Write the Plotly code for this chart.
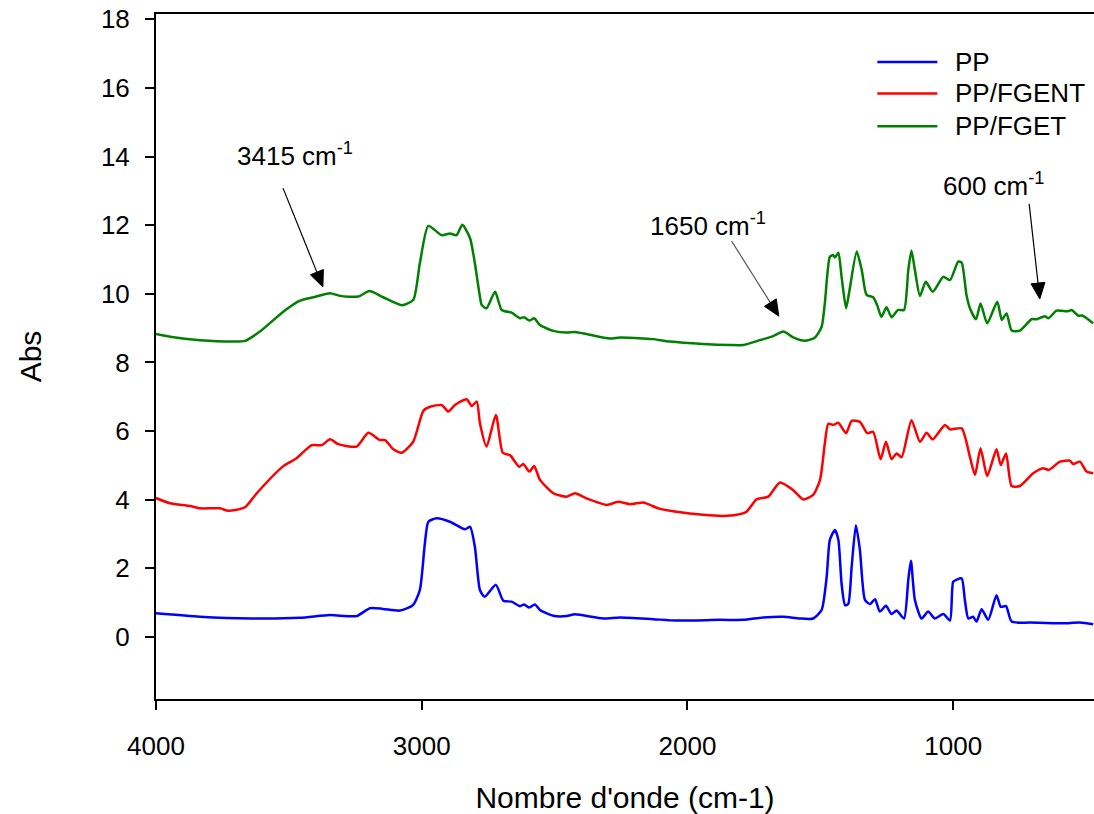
import math
import plotly.graph_objects as go

# ---------------- data ----------------
pp_wn = [4000, 3834, 3646, 3458, 3345, 3245, 3195, 3146, 3082, 3033, 3007, 2988, 2975, 2944, 2894,
         2837, 2818, 2800, 2781, 2763, 2721, 2693, 2662, 2630, 2615, 2595, 2574, 2555, 2505, 2455,
         2423, 2317, 2254, 2129, 2041, 1878, 1790, 1715, 1639, 1577, 1527, 1495, 1476, 1464, 1445,
         1432, 1420, 1407, 1395, 1382, 1366, 1351, 1332, 1313, 1294, 1276, 1253, 1232, 1213, 1185,
         1169, 1159, 1144, 1119, 1094, 1069, 1037, 1012, 1000, 987, 968, 956, 943, 925, 912,
         893, 868, 837, 821, 801, 780, 711, 586, 523, 473]
pp_abs = [0.69, 0.59, 0.54, 0.56, 0.64, 0.61, 0.84, 0.82, 0.77, 0.93, 1.37, 2.74, 3.36, 3.46, 3.36,
          3.14, 3.21, 2.63, 1.37, 1.17, 1.52, 1.06, 1.03, 0.90, 0.95, 0.86, 0.95, 0.79, 0.62, 0.61,
          0.66, 0.54, 0.57, 0.52, 0.48, 0.50, 0.50, 0.57, 0.59, 0.54, 0.54, 0.79, 1.76, 2.83, 3.12,
          2.83, 1.56, 0.93, 0.96, 2.05, 3.26, 2.54, 1.08, 0.96, 1.10, 0.74, 0.91, 0.67, 0.77, 0.54,
          1.66, 2.22, 1.08, 0.54, 0.74, 0.54, 0.67, 0.48, 1.61, 1.67, 1.71, 1.08, 0.54, 0.59, 0.45,
          0.81, 0.50, 1.22, 0.88, 0.90, 0.45, 0.42, 0.40, 0.42, 0.37]

fgent_wn = [4000, 3947, 3872, 3834, 3759, 3728, 3665, 3621, 3521, 3471, 3414, 3376, 3345, 3314, 3245,
            3201, 3157, 3138, 3107, 3075, 3032, 2994, 2969, 2925, 2900, 2875, 2831, 2812, 2793, 2781,
            2756, 2721, 2695, 2668, 2633, 2618, 2595, 2577, 2555, 2505, 2455, 2423, 2380, 2304, 2260,
            2216, 2166, 2141, 2110, 2041, 1941, 1865, 1815, 1778, 1740, 1696, 1652, 1602, 1564, 1527,
            1501, 1483, 1470, 1451, 1432, 1403, 1382, 1351, 1323, 1301, 1273, 1253, 1232, 1213, 1194,
            1157, 1125, 1100, 1077, 1031, 1012, 968, 937, 918, 897, 872, 837, 821, 801, 780,
            749, 699, 662, 640, 598, 561, 548, 523, 498, 473]
fgent_abs = [4.05, 3.90, 3.82, 3.75, 3.75, 3.68, 3.78, 4.19, 4.98, 5.21, 5.59, 5.59, 5.76, 5.62, 5.55,
             5.95, 5.74, 5.74, 5.47, 5.37, 5.69, 6.59, 6.71, 6.76, 6.57, 6.76, 6.93, 6.73, 6.86, 6.23,
             5.55, 6.47, 5.37, 5.30, 4.96, 5.04, 4.82, 4.98, 4.58, 4.19, 4.09, 4.19, 4.04, 3.85, 3.94,
             3.87, 3.92, 3.85, 3.75, 3.65, 3.56, 3.53, 3.56, 3.65, 4.01, 4.09, 4.50, 4.28, 4.01, 4.14,
             4.58, 5.64, 6.21, 6.18, 6.24, 5.94, 6.30, 6.27, 5.94, 5.98, 5.18, 5.69, 5.18, 5.35, 5.24,
             6.32, 5.69, 5.95, 5.76, 6.18, 6.05, 6.08, 5.25, 4.72, 5.50, 4.69, 5.47, 5.01, 5.35, 4.40,
             4.40, 4.77, 4.92, 4.87, 5.11, 5.14, 5.04, 5.11, 4.82, 4.77]

fget_wn = [4000, 3947, 3834, 3709, 3665, 3609, 3521, 3458, 3408, 3345, 3308, 3239, 3197, 3145, 3075,
           3032, 3007, 2975, 2925, 2894, 2869, 2847, 2818, 2800, 2783, 2774, 2756, 2724, 2699, 2662,
           2630, 2615, 2595, 2577, 2555, 2505, 2455, 2423, 2380, 2292, 2254, 2166, 2129, 2066, 1941,
           1840, 1790, 1727, 1677, 1639, 1602, 1558, 1520, 1495, 1483, 1464, 1452, 1445, 1432, 1420,
           1403, 1391, 1363, 1344, 1326, 1301, 1286, 1270, 1251, 1232, 1207, 1185, 1169, 1157, 1144,
           1125, 1103, 1077, 1037, 1012, 981, 968, 950, 937, 914, 897, 872, 834, 817, 799,
           780, 749, 705, 686, 655, 641, 611, 568, 554, 529, 514, 473]
fget_abs = [8.83, 8.75, 8.65, 8.61, 8.63, 8.90, 9.48, 9.80, 9.90, 10.02, 9.94, 9.92, 10.08, 9.90, 9.67,
            9.82, 10.89, 11.98, 11.71, 11.76, 11.71, 12.01, 11.62, 10.89, 10.02, 9.67, 9.58, 10.06, 9.53, 9.45,
            9.29, 9.32, 9.22, 9.29, 9.09, 8.92, 8.87, 8.89, 8.83, 8.70, 8.73, 8.70, 8.68, 8.61, 8.54,
            8.51, 8.51, 8.65, 8.77, 8.90, 8.73, 8.63, 8.73, 9.04, 9.72, 11.08, 11.13, 11.06, 11.20, 10.50,
            9.58, 10.06, 11.23, 10.69, 9.97, 9.90, 9.67, 9.33, 9.61, 9.32, 9.53, 9.53, 10.69, 11.26, 10.69,
            9.94, 10.35, 10.06, 10.50, 10.40, 10.94, 10.91, 9.97, 9.58, 9.26, 9.72, 9.14, 9.77, 9.24, 9.43,
            8.93, 8.93, 9.26, 9.26, 9.35, 9.29, 9.51, 9.49, 9.53, 9.36, 9.37, 9.14]

series_names = ["PP", "PP/FGENT", "PP/FGET"]
series_colors = ["#0000FF", "#FF0000", "#008000"]

x_ticks = [4000, 3000, 2000, 1000]
y_ticks = [0, 2, 4, 6, 8, 10, 12, 14, 16, 18]

peak_labels = ["3415 cm<sup>-1</sup>", "1650 cm<sup>-1</sup>", "600 cm<sup>-1</sup>"]

FONT = "Arial, Liberation Sans, sans-serif"

# layout geometry
W, H = 1094, 814
M_L, M_R, M_T, M_B = 156, 0, 14, 115
X_RANGE = [4000, 470]
Y_RANGE = [-1.806, 18.154]
PW, PH = W - M_L - M_R, H - M_T - M_B
sx = PW / (X_RANGE[1] - X_RANGE[0])   # px per data unit (negative: reversed)
sy = PH / (Y_RANGE[1] - Y_RANGE[0])

fig = go.Figure()
for wn, ab, name, col in zip([pp_wn, fgent_wn, fget_wn], [pp_abs, fgent_abs, fget_abs],
                             series_names, series_colors):
    fig.add_trace(go.Scatter(x=wn, y=ab, mode="lines", name=name,
                             line=dict(color=col, width=2.5, shape="spline", smoothing=0.6),
                             showlegend=False))

# custom legend (long line samples)
leg_y = [0.930, 0.884, 0.836]
for name, col, yy in zip(series_names, series_colors, leg_y):
    fig.add_shape(type="line", xref="paper", yref="paper", x0=0.769, x1=0.833, y0=yy, y1=yy,
                  line=dict(color=col, width=2.5))
    fig.add_annotation(xref="paper", yref="paper", x=0.850, y=yy, text=name, showarrow=False,
                       xanchor="left", yanchor="middle", font=dict(size=26, color="black", family=FONT))

# peak arrows drawn as shapes: (tip, tail, colour)
arrows = [((3372, 10.20), (3522, 13.08), "black"),
          ((1656, 9.35), (1834, 11.54), "#555555"),
          ((674, 9.85), (714, 12.62), "black")]
HEAD_L, HEAD_W = 16, 7
for (tx, ty), (bx, by), col in arrows:
    # to pixel-like space (y down)
    tpx, tpy = tx * sx, -ty * sy
    bpx, bpy = bx * sx, -by * sy
    dx, dy = tpx - bpx, tpy - bpy
    L = math.hypot(dx, dy)
    ux, uy = dx / L, dy / L
    nx, ny = -uy, ux
    basex, basey = tpx - ux * HEAD_L, tpy - uy * HEAD_L
    p1 = (basex + nx * HEAD_W, basey + ny * HEAD_W)
    p2 = (basex - nx * HEAD_W, basey - ny * HEAD_W)
    to_d = lambda p: (p[0] / sx, -p[1] / sy)
    b_d = to_d((basex, basey))
    p1d, p2d = to_d(p1), to_d(p2)
    fig.add_shape(type="line", xref="x", yref="y", x0=bx, y0=by, x1=b_d[0], y1=b_d[1],
                  line=dict(color=col, width=1.2))
    fig.add_shape(type="path", xref="x", yref="y",
                  path=f"M {tx},{ty} L {p1d[0]},{p1d[1]} L {p2d[0]},{p2d[1]} Z",
                  fillcolor="black", line=dict(color="black", width=1))

text_pos = [(3477, 14.05), (1923, 12.03), (850, 13.20)]
for (px_, py_), lab in zip(text_pos, peak_labels):
    fig.add_annotation(x=px_, y=py_, xref="x", yref="y", text=lab, showarrow=False,
                       font=dict(size=26, color="black", family=FONT))

fig.update_xaxes(range=X_RANGE, tickvals=x_ticks, ticks="outside", ticklen=9, tickwidth=2,
                 tickcolor="black", showline=True, linecolor="black", linewidth=2, mirror=True,
                 showgrid=False, zeroline=False, ticklabelstandoff=14,
                 tickfont=dict(size=26, color="black", family=FONT),
                 title=dict(text="Nombre d'onde (cm-1)", standoff=28,
                            font=dict(size=30, color="black", family=FONT)))
fig.update_yaxes(range=Y_RANGE, tickvals=y_ticks, ticks="outside", ticklen=9, tickwidth=2,
                 tickcolor="black", showline=True, linecolor="black", linewidth=2, mirror=False,
                 showgrid=False, zeroline=False, ticklabelstandoff=10,
                 tickfont=dict(size=26, color="black", family=FONT),
                 title=dict(text="Abs", standoff=50,
                            font=dict(size=30, color="black", family=FONT)))

fig.update_layout(width=W, height=H, margin=dict(l=M_L, r=M_R, t=M_T, b=M_B),
                  plot_bgcolor="white", paper_bgcolor="white", showlegend=False,
                  font=dict(family=FONT, color="black"))

fig.write_html("out.html")
